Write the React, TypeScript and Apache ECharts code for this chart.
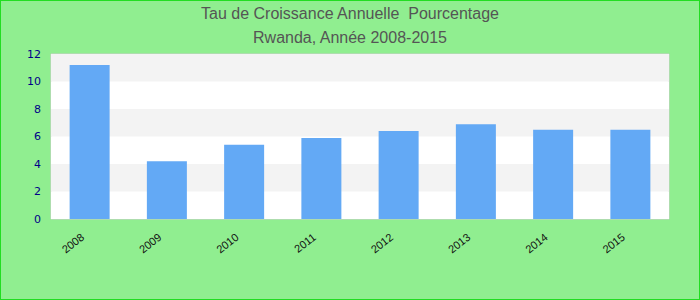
import React, { useEffect, useRef } from "react";
import * as echarts from "echarts";

const categories = ["2008", "2009", "2010", "2011", "2012", "2013", "2014", "2015"];
const values = [11.2, 4.2, 5.4, 5.9, 6.4, 6.9, 6.5, 6.5];
const titleLines = ["Tau de Croissance Annuelle  Pourcentage", "Rwanda, Année 2008-2015"];

export default function App() {
  const ref = useRef<HTMLDivElement>(null);
  useEffect(() => {
    document.body.style.margin = "0";
    const chart = echarts.init(ref.current!, null, { renderer: "svg" });
    chart.setOption({
      animation: false,
      backgroundColor: "#90ee90",
      title: {
        text: titleLines.join("\n"),
        left: "center",
        top: 0,
        padding: 0,
        textStyle: {
          fontFamily: "'Liberation Sans', Arial, sans-serif",
          fontSize: 16,
          fontWeight: "normal",
          color: "#555555",
          lineHeight: 24,
        },
      },
      grid: {
        left: 50,
        right: 30,
        top: 53,
        bottom: 80,
        show: true,
        borderColor: "#cccccc",
        borderWidth: 1,
        backgroundColor: "#ffffff",
      },
      xAxis: {
        type: "category",
        data: categories,
        axisLine: { show: false },
        axisTick: { show: false },
        axisLabel: {
          rotate: 38,
          margin: 11,
          padding: [0, 9, 0, 0],
          color: "#111111",
          fontSize: 11,
          fontFamily: "'Liberation Sans', Arial, sans-serif",
        },
      },
      yAxis: {
        type: "value",
        min: 0,
        max: 12,
        interval: 2,
        axisLine: { show: false },
        axisTick: { show: false },
        splitLine: { show: false },
        splitArea: { show: true, areaStyle: { color: ["#ffffff", "#f3f3f3"] } },
        axisLabel: {
          color: "#000088",
          fontSize: 11,
          margin: 10,
          fontFamily: "'DejaVu Sans', sans-serif",
        },
      },
      series: [
        {
          type: "bar",
          data: values,
          barWidth: 40,
          itemStyle: { color: "#63a9f5" },
        },
      ],
    });
    return () => chart.dispose();
  }, []);
  return (
    <div
      ref={ref}
      style={{
        width: 700,
        height: 300,
        boxSizing: "border-box",
        border: "1px solid #22dd22",
        position: "absolute",
        left: 0,
        top: 0,
      }}
    />
  );
}
